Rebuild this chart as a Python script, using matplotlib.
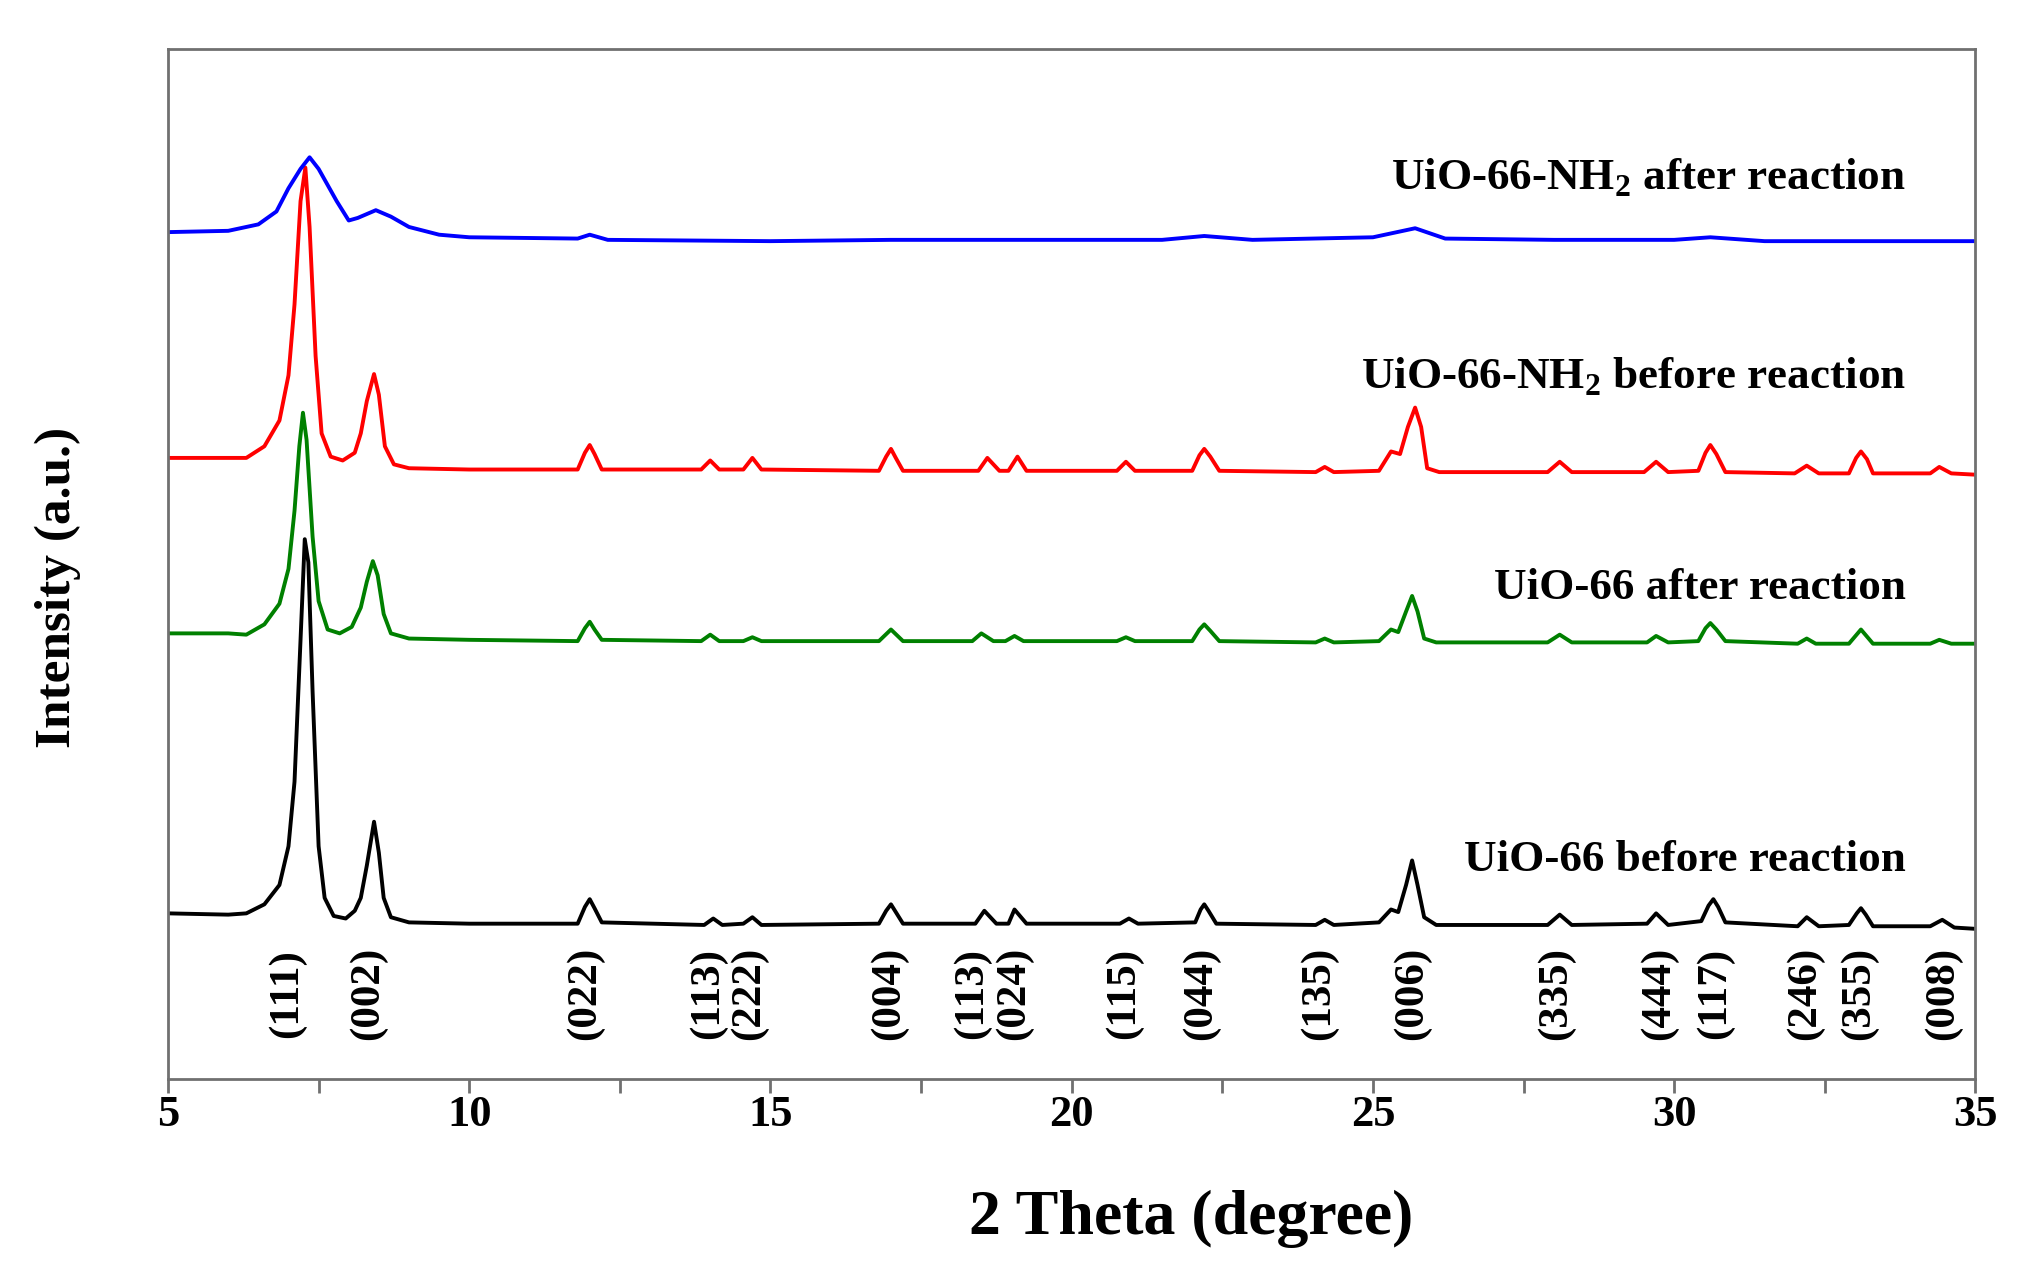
import numpy as np
import matplotlib.pyplot as plt

plt.rcParams['font.family'] = ['Liberation Serif', 'DejaVu Serif']
plt.rcParams['font.weight'] = 'bold'

# 2theta / intensity points (arbitrary units, stacked)
x_black = [5.0, 6.0, 6.3, 6.6, 6.85, 7.0, 7.1, 7.2, 7.27, 7.33, 7.4, 7.5, 7.6, 7.75, 7.95, 8.1, 8.2, 8.3, 8.42, 8.5, 8.58, 8.7, 9.0,
           10.0, 11.8, 11.92, 12.0, 12.08, 12.2, 13.9, 14.05, 14.2, 14.55, 14.7, 14.85, 16.8, 16.92, 17.0, 17.08, 17.2,
           18.4, 18.55, 18.75, 18.95, 19.05, 19.25,
           20.8, 20.95, 21.1, 22.05, 22.14, 22.2, 22.27, 22.4, 24.05, 24.2, 24.35, 25.1, 25.3, 25.42, 25.55, 25.65, 25.74, 25.85, 26.05,
           27.9, 28.1, 28.3, 29.55, 29.7, 29.9, 30.45, 30.57, 30.65, 30.73, 30.85, 32.05, 32.2, 32.4, 32.9, 33.03, 33.1, 33.18, 33.3,
           34.25, 34.45, 34.65, 35.0]
y_black = [128, 127, 128, 135, 150, 180, 230, 340, 418, 400, 300, 180, 140, 126, 124, 130, 140, 165, 199, 175, 140, 125, 121,
           120, 120, 133, 139, 132, 121, 119, 124, 119, 120, 125, 119, 120, 130, 135, 129, 120,
           120, 130, 120, 120, 131, 120,
           120, 124, 120, 121, 131, 135, 130, 120, 119, 123, 119, 121, 131, 129, 150, 169, 150, 125, 119,
           119, 127, 119, 120, 128, 119, 122, 134, 139, 133, 121, 118, 125, 118, 119, 128, 132, 127, 118,
           118, 123, 117, 116]

x_green = [5.0, 6.0, 6.3, 6.6, 6.85, 7.0, 7.1, 7.18, 7.24, 7.3, 7.4, 7.5, 7.65, 7.85, 8.05, 8.2, 8.3, 8.4, 8.48, 8.58, 8.7, 9.0,
           10.0, 11.8, 11.92, 12.0, 12.08, 12.2, 13.85, 14.0, 14.15, 14.55, 14.7, 14.85, 16.8, 17.0, 17.2, 18.35, 18.5, 18.7,
           18.9, 19.05, 19.2, 20.75, 20.9, 21.05, 22.0, 22.12, 22.2, 22.3, 22.45, 24.05, 24.2, 24.35,
           25.1, 25.3, 25.42, 25.55, 25.65, 25.74, 25.85, 26.05, 27.9, 28.1, 28.3,
           29.55, 29.7, 29.9, 30.4, 30.52, 30.6, 30.7, 30.85, 32.05, 32.2, 32.35, 32.9, 33.1, 33.3, 34.25, 34.4, 34.6, 35.0]
y_green = [345, 345, 344, 352, 368, 395, 440, 490, 516, 495, 420, 370, 348, 345, 350, 365, 385, 401, 390, 360, 345, 341,
           340, 339, 349, 354, 348, 340, 339, 344, 339, 339, 342, 339, 339, 348, 339, 339, 345, 339,
           339, 343, 339, 339, 342, 339, 339, 348, 352, 347, 339, 338, 341, 338,
           339, 348, 346, 362, 374, 362, 341, 338, 338, 344, 338,
           338, 343, 338, 339, 349, 353, 348, 339, 337, 341, 337, 337, 348, 337, 337, 340, 337, 337]

x_red = [5.0, 6.0, 6.3, 6.6, 6.85, 7.0, 7.1, 7.2, 7.28, 7.35, 7.45, 7.55, 7.7, 7.9, 8.1, 8.2, 8.3, 8.42, 8.5, 8.6, 8.75, 9.0,
         10.0, 11.8, 11.92, 12.0, 12.08, 12.2, 13.85, 14.0, 14.15, 14.55, 14.7, 14.85, 16.8, 16.92, 17.0, 17.08, 17.2,
         18.45, 18.6, 18.8, 18.95, 19.1, 19.25, 20.75, 20.9, 21.05, 22.0, 22.12, 22.2, 22.3, 22.45, 24.05, 24.2, 24.35,
         25.1, 25.3, 25.45, 25.58, 25.7, 25.8, 25.9, 26.1, 27.9, 28.1, 28.3,
         29.5, 29.7, 29.9, 30.4, 30.52, 30.6, 30.7, 30.85, 32.0, 32.2, 32.4, 32.9, 33.02, 33.1, 33.2, 33.3, 34.25, 34.4, 34.6, 35.0]
y_red = [481, 481, 481, 490, 510, 545, 600, 680, 706, 660, 560, 500, 482, 479, 485, 500, 525, 546, 530, 490, 476, 473,
         472, 472, 485, 491, 484, 472, 472, 479, 472, 472, 481, 472, 471, 482, 488, 481, 471,
         471, 481, 471, 471, 482, 471, 471, 478, 471, 471, 483, 488, 482, 471, 470, 474, 470,
         471, 486, 484, 505, 520, 505, 473, 470, 470, 478, 470,
         470, 478, 470, 471, 485, 491, 484, 470, 469, 475, 469, 469, 481, 486, 480, 469, 469, 474, 469, 468]

x_blue = [5.0, 6.0, 6.5, 6.8, 7.0, 7.2, 7.35, 7.5, 7.8, 8.0, 8.15, 8.45, 8.7, 9.0, 9.5, 10.0, 11.8, 12.0, 12.3,
          15.0, 17.0, 19.0, 21.5, 22.2, 23.0, 25.0, 25.7, 26.2, 28.0, 30.0, 30.6, 31.5, 35.0]
y_blue = [656, 657, 662, 672, 690, 705, 714, 705, 680, 665, 667, 673, 668, 660, 654, 652, 651, 654, 650,
          649, 650, 650, 650, 653, 650, 652, 659, 651, 650, 650, 652, 649, 649]

series_names = ['UiO-66 before reaction', 'UiO-66 after reaction',
                'UiO-66-NH$_\\mathregular{2}$ before reaction', 'UiO-66-NH$_\\mathregular{2}$ after reaction']
series_colors = ['black', '#008000', 'red', 'blue']
label_y = [169, 380, 544, 698]

hkl = ['(111)', '(002)', '(022)', '(113)', '(222)', '(004)', '(113)', '(024)', '(115)', '(044)',
       '(135)', '(006)', '(335)', '(444)', '(117)', '(246)', '(355)', '(008)']
hkl_pos = [6.97, 8.32, 11.92, 13.96, 14.64, 16.96, 18.35, 19.04, 20.86, 22.14,
           24.11, 25.64, 28.04, 29.75, 30.67, 32.17, 33.07, 34.46]

fig = plt.figure(figsize=(20.24, 12.87), dpi=100)
ax = fig.add_axes([0.083, 0.162, 0.893, 0.800])

xs = [x_black, x_green, x_red, x_blue]
ys = [y_black, y_green, y_red, y_blue]
for i in range(4):
    ax.plot(xs[i], ys[i], color=series_colors[i], lw=2.8, solid_joinstyle='round')
    ax.text(33.85, label_y[i], series_names[i], ha='right', va='center', fontsize=32.5, fontweight='bold')

for lab, p in zip(hkl, hkl_pos):
    ax.text(p, 66, lab, rotation=90, ha='center', va='center', fontsize=31, fontweight='bold')

ax.set_xlim(5, 35)
ax.set_ylim(0, 798)
ax.set_yticks([])
ax.set_xticks(np.arange(5, 36, 5))
ax.set_xticks(np.arange(7.5, 35, 5), minor=True)
ax.tick_params(axis='x', which='major', direction='out', length=10, width=2, color='#707070',
               labelsize=32, pad=2)
ax.tick_params(axis='x', which='minor', direction='out', length=10, width=2, color='#707070')
for lab in ax.get_xticklabels():
    lab.set_fontweight('bold')
for s in ax.spines.values():
    s.set_color('#707070')
    s.set_linewidth(2)

ax.set_xlabel('2 Theta (degree)', fontsize=46, fontweight='bold')
ax.xaxis.set_label_coords(0.566, -0.108)
ax.set_ylabel('Intensity (a.u.)', fontsize=37, fontweight='bold')
ax.yaxis.set_label_coords(-0.048, 0.477)

plt.savefig('out.png', dpi=100)
